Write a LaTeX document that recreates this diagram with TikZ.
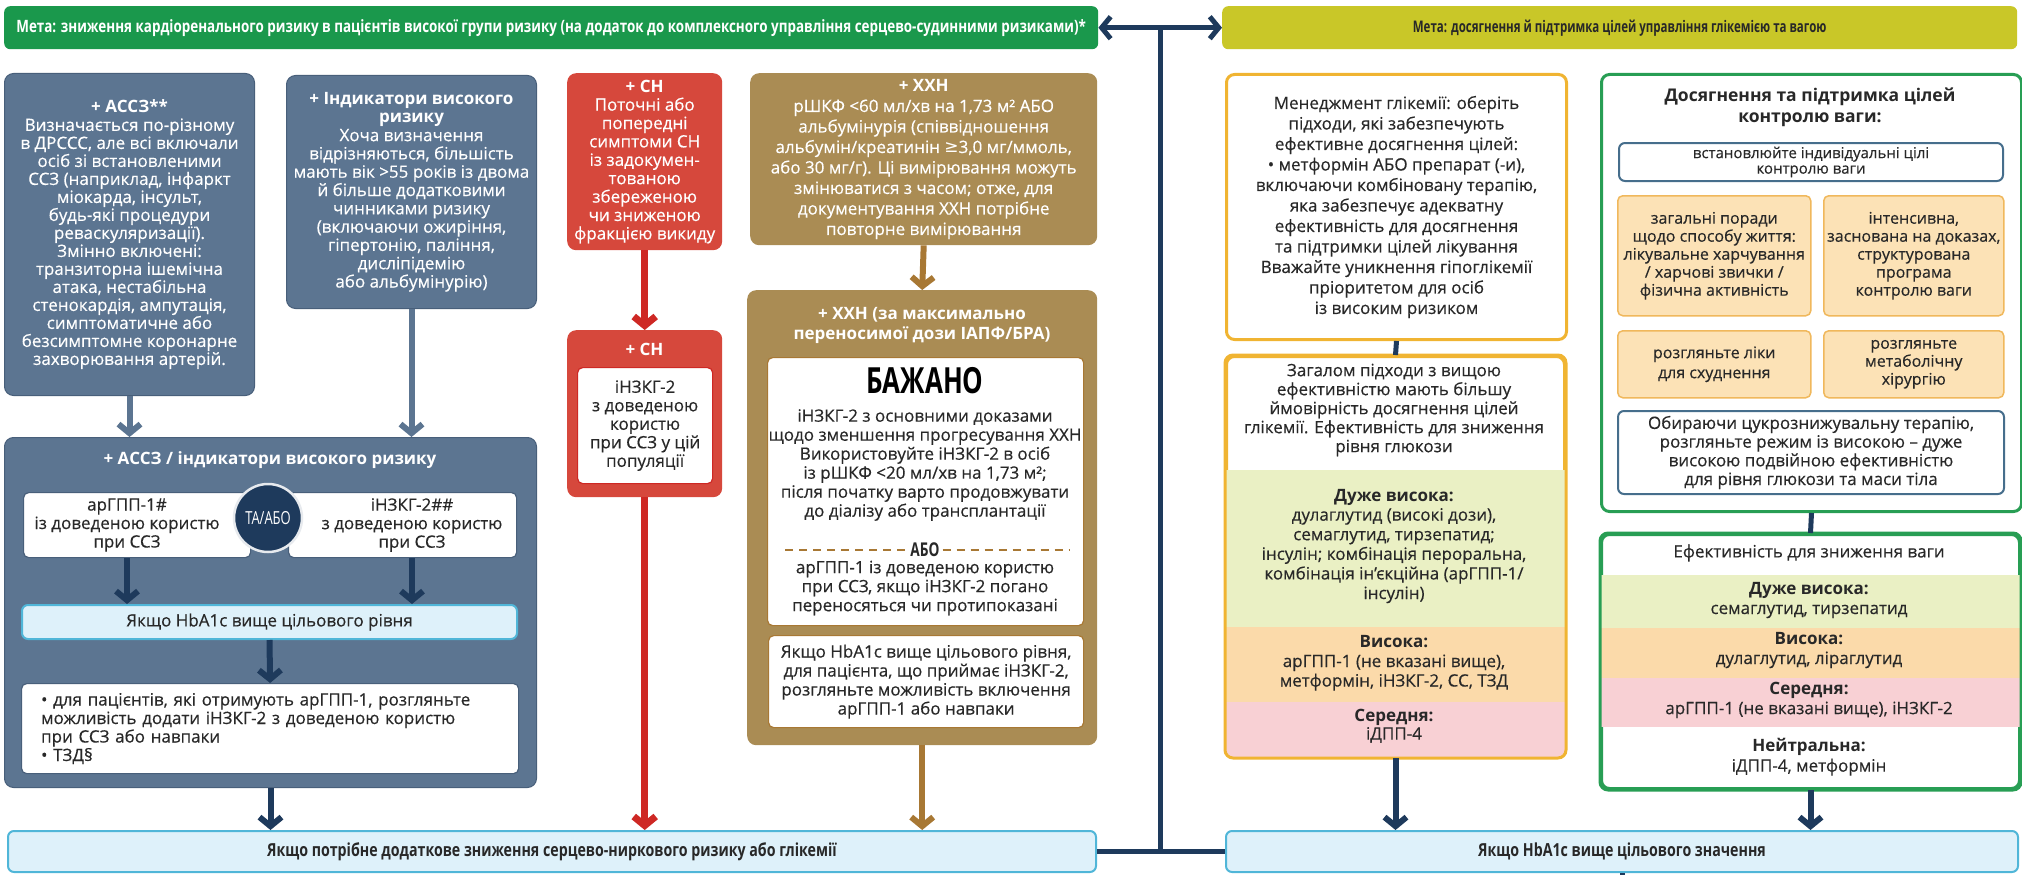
\documentclass[tikz,border=0pt]{standalone}
\usepackage{fontspec}
\setmainfont{Open Sans}[UprightFeatures={FakeBold=0.4}]
\newfontfamily\condfont[FakeStretch=0.72]{Open Sans}
\newfontfamily\condwide[FakeStretch=0.79]{Open Sans}
\newfontfamily\symfont{DejaVu Sans}
\usetikzlibrary{arrows.meta,positioning,calc}

\definecolor{cGreen}{RGB}{26,152,76}
\definecolor{cOlive}{RGB}{201,199,40}
\definecolor{cSlate}{RGB}{92,117,145}
\definecolor{cSlateEdge}{RGB}{72,95,122}
\definecolor{cNavy}{RGB}{30,58,92}
\definecolor{cRed}{RGB}{214,72,60}
\definecolor{cRedLine}{RGB}{206,40,36}
\definecolor{cBrown}{RGB}{170,140,84}
\definecolor{cBrownLine}{RGB}{168,120,52}
\definecolor{cCyanFill}{RGB}{222,241,250}
\definecolor{cCyanEdge}{RGB}{80,182,216}
\definecolor{cGold}{RGB}{240,180,50}
\definecolor{cGreenEdge}{RGB}{40,158,84}
\definecolor{cOrangeFill}{RGB}{252,226,182}
\definecolor{cOrangeEdge}{RGB}{240,184,92}
\definecolor{cBlueEdge}{RGB}{70,110,140}
\definecolor{cBandGreen}{RGB}{234,240,196}
\definecolor{cBandOrange}{RGB}{251,218,170}
\definecolor{cBandPink}{RGB}{248,208,212}
\definecolor{cInk}{RGB}{40,40,40}

\tikzset{
  bodytext/.style={font=\fontsize{17}{18.5}\selectfont},
  darktext/.style={bodytext, text=cInk, align=center},
  boldtext/.style={font=\bfseries\fontsize{17}{20}\selectfont},
  banner/.style={rounded corners=6pt, anchor=north west},
  navybox/.style={draw=cSlateEdge, fill=cSlate, line width=1pt, rounded corners=9pt, anchor=north west, text=white, align=center, bodytext},
  redbox/.style={fill=cRed, rounded corners=9pt, anchor=north west, text=white, align=center, bodytext},
  brownbox/.style={fill=cBrown, rounded corners=9pt, anchor=north west, text=white, align=center, bodytext},
  whitebox/.style={draw=#1, fill=white, line width=1.2pt, rounded corners=5pt, anchor=north west, text=cInk, align=center, bodytext},
  cyanbar/.style={draw=cCyanEdge, fill=cCyanFill, line width=2pt, rounded corners=6pt, anchor=north west, text=cInk, align=center},
  goldbox/.style={draw=cGold, fill=white, line width=3pt, rounded corners=8pt, anchor=north west, darktext},
  greenbox/.style={draw=cGreenEdge, fill=white, line width=3pt, rounded corners=8pt, anchor=north west, darktext},
  orangebox/.style={draw=cOrangeEdge, fill=cOrangeFill, line width=1.5pt, rounded corners=5pt, anchor=north west, darktext, font=\fontsize{16}{18}\selectfont},
  bluebox/.style={draw=cBlueEdge, fill=white, line width=2pt, rounded corners=6pt, anchor=north west, darktext},
  flow/.style={line width=6pt, -{Straight Barb[length=9pt,width=22pt]}},
  joint/.style={draw=cNavy, line width=5pt},
}

\begin{document}
\begin{tikzpicture}[x=1pt,y=-1pt]
\useasboundingbox (0,0) rectangle (2022,875);

% goals on top
\node[banner, fill=cGreen, text=white, minimum width=1094pt, minimum height=43pt,
  font=\condwide\bfseries\fontsize{17}{18}\selectfont] (goalcv) at (4,6)
  {Мета: зниження кардіоренального ризику в пацієнтів високої групи ризику (на додаток до комплексного управління серцево-судинними ризиками)*};
\node[banner, fill=cOlive, text=cInk, minimum width=795pt, minimum height=43pt,
  font=\condfont\bfseries\fontsize{16}{18}\selectfont] (goalgl) at (1222,6)
  {Мета: досягнення й підтримка цілей управління глікемією та вагою};
\draw[joint, {Straight Barb[length=9pt,width=22pt]}-{Straight Barb[length=9pt,width=22pt]}] (goalcv.east) -- (goalgl.west);
\coordinate (stemtop) at ($(goalcv.east)!0.5!(goalgl.west)$);

% left column: ASCVD / high risk
\node[navybox, minimum width=250pt, minimum height=322pt, font=\fontsize{17}{18}\selectfont] (ascvd) at (4,73)
  {\textbf{+ АССЗ**}\\Визначається по-різному\\в ДРССС, але всі включали\\осіб зі встановленими\\ССЗ (наприклад, інфаркт\\міокарда, інсульт,\\будь-які процедури\\реваскуляризації).\\Змінно включені:\\транзиторна ішемічна\\атака, нестабільна\\стенокардія, ампутація,\\симптоматичне або\\безсимптомне коронарне\\захворювання артерій.};
\node[navybox, minimum width=250pt, minimum height=233pt, font=\fontsize{17}{18.3}\selectfont] (highrisk) at (286,75)
  {\textbf{+ Індикатори високого}\\\textbf{ризику}\\Хоча визначення\\відрізняються, більшість\\мають вік >55 років із двома\\й більше додатковими\\чинниками ризику\\(включаючи ожиріння,\\гіпертонію, паління,\\дисліпідемію\\або альбумінурію)};
\node[navybox, minimum width=532pt, minimum height=350pt] (ascvdall) at (4,437) {};
\node[boldtext, text=white] (ascvdhead) at (270,460) {+ АССЗ / індикатори високого ризику};
\node[whitebox=cSlateEdge, minimum width=227pt, minimum height=65pt] (glpbox) at (23,492) {};
\node[whitebox=cSlateEdge, minimum width=228pt, minimum height=65pt] (sgltbox) at (288,492) {};
\node[darktext] (glptext) at (127,525) {арГПП-1\#\\із доведеною користю\\при ССЗ};
\node[darktext] (sglttext) at (412,525) {іНЗКГ-2\#\#\\з доведеною користю\\при ССЗ};
\node[circle, fill=cNavy, draw=white!85!cSlate, line width=2.5pt, minimum size=68pt, text=white,
  font=\condfont\fontsize{18}{18}\selectfont] (andor) at (268,518) {ТА/АБО};
\node[cyanbar, bodytext, minimum width=495pt, minimum height=34pt] (hbaleft) at (21,604) {Якщо HbA1c вище цільового рівня};
\node[whitebox=cSlateEdge, minimum width=497pt, minimum height=90pt, align=left, text width=458pt] (addon) at (21,683)
  {• для пацієнтів, які отримують арГПП-1, розгляньте\\можливість додати іНЗКГ-2 з доведеною користю\\при ССЗ або навпаки\\• ТЗД§};
\draw[flow, cSlate] (ascvd.south) -- (ascvd.south |- ascvdall.north);
\draw[flow, cSlate] (highrisk.south) -- (highrisk.south |- ascvdall.north);
\draw[flow, cNavy] (glptext |- glpbox.south) -- (glptext |- hbaleft.north);
\draw[flow, cNavy] (sglttext |- sgltbox.south) -- (sglttext |- hbaleft.north);
\draw[flow, cNavy] (hbaleft.south) -- (addon.north);

% heart failure
\node[redbox, minimum width=155pt, minimum height=177pt, font=\fontsize{17}{18.4}\selectfont] (hf) at (567,73)
  {\textbf{+ СН}\\Поточні або\\попередні\\симптоми СН\\із задокумен-\\тованою\\збереженою\\чи зниженою\\фракцією викиду};
\node[redbox, minimum width=155pt, minimum height=167pt] (hftwo) at (567,330) {};
\node[boldtext, text=white] (hfhead) at (644.5,349) {+ СН};
\node[whitebox=cRedLine, minimum width=135pt, minimum height=116pt] (hfsglt) at (577,367)
  {іНЗКГ-2\\з доведеною\\користю\\при ССЗ у цій\\популяції};
\draw[flow, cRedLine, line width=7pt] (hf.south) -- (hftwo.north);

% chronic kidney disease
\node[brownbox, minimum width=347pt, minimum height=172pt, font=\fontsize{17}{20.5}\selectfont] (ckd) at (750,73)
  {\textbf{+ ХХН}\\рШКФ <60 мл/хв на 1,73 м² АБО\\альбумінурія (співвідношення\\альбумін/креатинін {\symfont ≥}3,0 мг/ммоль,\\або 30 мг/г). Ці вимірювання можуть\\змінюватися з часом; отже, для\\документування ХХН потрібне\\повторне вимірювання};
\node[brownbox, minimum width=350pt, minimum height=455pt] (ckdtwo) at (747,290) {};
\node[boldtext, text=white, align=center] (ckdhead) at (922,325)
  {+ ХХН (за максимально\\переносимої дози ІАПФ/БРА)};
\node[whitebox=cBrownLine, minimum width=316pt, minimum height=268pt] (prefer) at (767,357) {};
\node[text=black, font=\condfont\bfseries\fontsize{36}{36}\selectfont] (bazhano) at (925,381) {БАЖАНО};
\node[darktext, font=\fontsize{17}{19}\selectfont] (sgltmain) at (925,465)
  {іНЗКГ-2 з основними доказами\\щодо зменшення прогресування ХХН\\Використовуйте іНЗКГ-2 в осіб\\із рШКФ <20 мл/хв на 1,73 м²;\\після початку варто продовжувати\\до діалізу або трансплантації};
\node[text=cInk, font=\condfont\bfseries\fontsize{19}{19}\selectfont, inner xsep=3pt] (ortext) at (925,550) {АБО};
\draw[cBrownLine, line width=2pt, dash pattern=on 8pt off 6pt] ([xshift=18pt]prefer.west |- ortext.center) -- (ortext.west);
\draw[cBrownLine, line width=2pt, dash pattern=on 8pt off 6pt] (ortext.east) -- ([xshift=-14pt]prefer.east |- ortext.center);
\node[darktext, font=\fontsize{17}{19}\selectfont] (glpalt) at (925,588)
  {арГПП-1 із доведеною користю\\при ССЗ, якщо іНЗКГ-2 погано\\переносяться чи протипоказані};
\node[whitebox=cBrownLine, minimum width=315pt, minimum height=92pt, font=\fontsize{17}{19}\selectfont] (hbackd) at (768,635)
  {Якщо HbA1c вище цільового рівня,\\для пацієнта, що приймає іНЗКГ-2,\\розгляньте можливість включення\\арГПП-1 або навпаки};
\draw[flow, cBrownLine] (ckd.south) -- (ckdtwo.north);

% glycaemia column
\node[goldbox, minimum width=340pt, minimum height=265pt, font=\fontsize{17}{20.5}\selectfont] (glyc) at (1225,73)
  {Менеджмент глікемії: оберіть\\підходи, які забезпечують\\ефективне досягнення цілей:\\• метформін АБО препарат (-и),\\включаючи комбіновану терапію,\\яка забезпечує адекватну\\ефективність для досягнення\\та підтримки цілей лікування\\Вважайте уникнення гіпоглікемії\\пріоритетом для осіб\\із високим ризиком};
\node[goldbox, minimum width=338pt, minimum height=400pt] (glycbands) at (1225,355) {};
\begin{scope}
  \clip[rounded corners=8pt] (glycbands.north west) rectangle (glycbands.south east);
  \fill[cBandGreen] (glycbands.west |- 0,470) rectangle (glycbands.east |- 0,627);
  \fill[cBandOrange] (glycbands.west |- 0,627) rectangle (glycbands.east |- 0,702);
  \fill[cBandPink] (glycbands.west |- 0,702) rectangle (glycbands.south east);
\end{scope}
\draw[cGold, line width=3pt, rounded corners=8pt] (glycbands.north west) rectangle (glycbands.south east);
\node[darktext, font=\fontsize{17}{19}\selectfont] (glychead) at (1394,410)
  {Загалом підходи з вищою\\ефективністю мають більшу\\ймовірність досягнення цілей\\глікемії. Ефективність для зниження\\рівня глюкози};
\node[darktext, font=\fontsize{17}{19.6}\selectfont] (glycvhigh) at (1394,546)
  {\textbf{Дуже висока:}\\дулаглутид (високі дози),\\семаглутид, тирзепатид;\\інсулін; комбінація пероральна,\\комбінація ін’єкційна (арГПП-1/\\інсулін)};
\node[darktext, font=\fontsize{17}{19.5}\selectfont] (glychigh) at (1394,663)
  {\textbf{Висока:}\\арГПП-1 (не вказані вище),\\метформін, іНЗКГ-2, СС, ТЗД};
\node[darktext, font=\fontsize{17}{18}\selectfont] (glycmid) at (1394,726) {\textbf{Середня:}\\іДПП-4};
\draw[joint] (glyc.south) -- (glycbands.north);

% weight column
\node[greenbox, minimum width=420pt, minimum height=437pt] (weight) at (1600,73) {};
\node[darktext, font=\bfseries\fontsize{17.5}{21}\selectfont] (weighthead) at (1810,107) {Досягнення та підтримка цілей\\контролю ваги:};
\node[bluebox, minimum width=384pt, minimum height=38pt, font=\fontsize{15}{15.5}\selectfont] (wgoal) at (1618,142)
  {встановлюйте індивідуальні цілі\\контролю ваги};
\node[orangebox, minimum width=193pt, minimum height=120pt] (lifestyle) at (1617,195)
  {загальні поради\\щодо способу життя:\\лікувальне харчування\\/ харчові звички /\\фізична активність};
\node[orangebox, minimum width=180pt, minimum height=120pt] (program) at (1823,195)
  {інтенсивна,\\заснована на доказах,\\структурована\\програма\\контролю ваги};
\node[orangebox, minimum width=193pt, minimum height=67pt, font=\fontsize{16}{20}\selectfont] (drugs) at (1617,330)
  {розгляньте ліки\\для схуднення};
\node[orangebox, minimum width=180pt, minimum height=67pt] (surgery) at (1823,330)
  {розгляньте\\метаболічну\\хірургію};
\node[bluebox, minimum width=386pt, minimum height=83pt, font=\fontsize{17}{18.7}\selectfont] (dual) at (1617,410)
  {Обираючи цукрознижувальну терапію,\\розгляньте режим із високою – дуже\\високою подвійною ефективністю\\для рівня глюкози та маси тіла};
\node[greenbox, minimum width=418pt, minimum height=254pt] (weighteff) at (1600,533) {};
\begin{scope}
  \clip (weighteff.north west) rectangle (weighteff.south east);
  \fill[cBandGreen] (weighteff.west |- 0,575) rectangle (weighteff.east |- 0,628);
  \fill[cBandOrange] (weighteff.west |- 0,628) rectangle (weighteff.east |- 0,678);
  \fill[cBandPink] (weighteff.west |- 0,678) rectangle (weighteff.east |- 0,727);
\end{scope}
\draw[cGreenEdge, line width=3pt, rounded corners=8pt] (weighteff.north west) rectangle (weighteff.south east);
\node[darktext] (wefftitle) at (1809,553) {Ефективність для зниження ваги};
\node[darktext, font=\fontsize{17}{20}\selectfont] (wvhigh) at (1809,600) {\textbf{Дуже висока:}\\семаглутид, тирзепатид};
\node[darktext, font=\fontsize{17}{20}\selectfont] (whigh) at (1809,650) {\textbf{Висока:}\\дулаглутид, ліраглутид};
\node[darktext, font=\fontsize{17}{20}\selectfont] (wmid) at (1809,700) {\textbf{Середня:}\\арГПП-1 (не вказані вище), іНЗКГ-2};
\node[darktext, font=\fontsize{17}{20}\selectfont] (wneutral) at (1809,757) {\textbf{Нейтральна:}\\іДПП-4, метформін};
\draw[joint] (weight.south) -- (weighteff.north);

% bottom bars
\node[cyanbar, minimum width=1088pt, minimum height=41pt, font=\condwide\bfseries\fontsize{18}{18}\selectfont] (lbar) at (7,830)
  {Якщо потрібне додаткове зниження серцево-ниркового ризику або глікемії};
\node[cyanbar, minimum width=792pt, minimum height=41pt, font=\condwide\bfseries\fontsize{18}{18}\selectfont] (rbar) at (1225,830)
  {Якщо HbA1c вище цільового значення};
\coordinate (rbarout) at (rbar.south |- 0,875);

\draw[flow, cNavy] (ascvdall.south) -- (ascvdall.south |- lbar.north);
\draw[flow, cRedLine, line width=7pt] (hftwo.south) -- (hftwo.south |- lbar.north);
\draw[flow, cBrownLine] (ckdtwo.south) -- (ckdtwo.south |- lbar.north);
\draw[flow, cNavy] (glycbands.south) -- (glycbands.south |- rbar.north);
\draw[flow, cNavy] (weighteff.south) -- (weighteff.south |- rbar.north);
\draw[joint] (lbar.east) -- (rbar.west);
\draw[joint] (stemtop) -- (stemtop |- lbar.east);
\draw[joint] (rbar.south) -- (rbarout);
\end{tikzpicture}
\end{document}
